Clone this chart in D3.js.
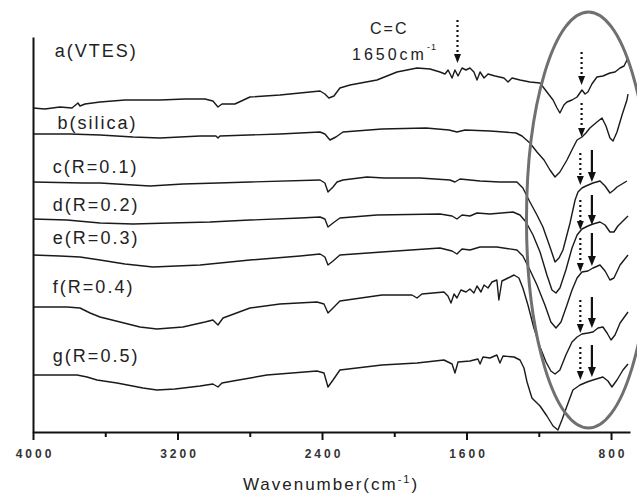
<!DOCTYPE html>
<html><head><meta charset="utf-8">
<script src="https://cdn.jsdelivr.net/npm/d3@7"></script>
<style>
html,body{margin:0;padding:0;background:#fff;}
svg{display:block;}
text{font-family:"Liberation Sans",Arial,Helvetica,sans-serif;}
</style></head><body>
<svg id="chart" width="637" height="493"></svg>
<script>
// ---------- data (wavenumber cm^-1, offset transmittance a.u.) ----------
const seriesNames = ["a(VTES)", "b(silica)", "c(R=0.1)", "d(R=0.2)", "e(R=0.3)", "f(R=0.4)", "g(R=0.5)"];
const xTicks = [4000, 3200, 2400, 1600, 800];
const xMinorTicks = [3600, 2800, 2000, 1200];

const seriesA = [[4000,324],[3934,323],[3851,325],[3784,324],[3751,329],[3740,326],[3712,328],[3629,330],[3491,332],[3297,332],[3159,333],[3048,333],[3004,331],[2976,325],[2954,328],[2882,328],[2799,335],[2633,337],[2467,340],[2411,341],[2384,338],[2362,334],[2334,336],[2301,344],[2245,347],[2096,352],[1985,360],[1874,364],[1802,363],[1747,360],[1719,358],[1702,362],[1680,354],[1664,362],[1647,356],[1625,364],[1603,362],[1581,364],[1559,360],[1542,352],[1525,360],[1503,354],[1481,358],[1442,356],[1393,354],[1370,350],[1348,354],[1304,352],[1249,350],[1193,349],[1155,340],[1121,332],[1099,324],[1083,319],[1061,327],[1044,330],[1016,332],[988,335],[961,342],[944,338],[928,340],[906,348],[878,355],[845,356],[806,359],[778,360],[750,364],[728,366],[706,374]];
const seriesB = [[4000,298],[3795,298],[3629,297],[3446,295],[3297,294],[3075,296],[2987,296],[2976,294],[2965,296],[2633,298],[2411,300],[2384,298],[2356,292],[2323,295],[2284,300],[2068,303],[1824,304],[1697,302],[1653,300],[1608,302],[1470,301],[1393,300],[1326,299],[1293,296],[1249,289],[1210,280],[1171,272],[1138,262],[1110,255],[1083,260],[1044,272],[1011,284],[988,292],[961,295],[939,299],[917,304],[878,310],[850,314],[828,306],[806,294],[789,291],[767,300],[739,317],[712,332],[706,338]];
const seriesC = [[4000,250],[3723,249],[3629,249],[3446,247],[3352,246],[3170,248],[2976,249],[2799,250],[2411,252],[2384,249],[2367,240],[2339,245],[2317,250],[2284,252],[2151,255],[2057,254],[1858,254],[1692,252],[1664,250],[1636,253],[1525,251],[1415,250],[1321,250],[1288,244],[1249,230],[1210,217],[1177,205],[1138,185],[1110,170],[1088,174],[1066,182],[1027,209],[999,232],[983,240],[961,244],[939,246],[900,249],[861,251],[833,246],[806,239],[784,242],[767,245],[739,248],[712,251]];
const seriesD = [[4000,213],[3812,212],[3629,209],[3446,208],[3242,209],[3020,210],[2799,212],[2522,214],[2411,215],[2384,213],[2367,205],[2339,209],[2301,214],[2096,217],[1747,218],[1680,216],[1653,213],[1625,217],[1581,216],[1542,219],[1470,218],[1343,220],[1304,217],[1271,210],[1232,197],[1193,180],[1155,157],[1127,142],[1105,139],[1083,144],[1050,162],[1016,184],[988,197],[961,203],[928,206],[900,208],[861,210],[833,207],[806,200],[784,200],[762,206],[734,211],[706,216]];
const seriesE = [[4000,177],[3851,176],[3740,175],[3629,172],[3491,168],[3336,165],[3075,167],[2799,172],[2522,176],[2411,178],[2384,175],[2367,167],[2339,171],[2301,177],[2068,180],[1747,184],[1680,181],[1653,178],[1625,183],[1581,182],[1525,185],[1432,185],[1321,182],[1288,176],[1249,162],[1210,147],[1166,127],[1133,110],[1105,104],[1077,110],[1044,127],[1016,142],[988,154],[961,160],[928,161],[900,164],[861,167],[833,161],[806,152],[784,154],[750,167],[706,177]];
const seriesF = [[4000,125],[3812,125],[3740,124],[3684,119],[3629,115],[3518,110],[3408,105],[3314,103],[3170,105],[3048,110],[3004,112],[2976,107],[2948,114],[2799,124],[2633,128],[2428,130],[2389,128],[2367,119],[2339,124],[2301,131],[2068,137],[1902,137],[1874,134],[1847,138],[1725,140],[1703,136],[1686,129],[1669,138],[1653,134],[1631,142],[1603,140],[1581,143],[1559,139],[1542,146],[1520,140],[1503,147],[1481,144],[1459,150],[1432,152],[1421,132],[1404,151],[1370,154],[1337,157],[1310,154],[1288,144],[1260,127],[1227,104],[1193,85],[1160,70],[1133,61],[1110,58],[1083,62],[1050,77],[1016,90],[988,95],[961,98],[928,99],[900,100],[872,104],[845,105],[822,99],[800,92],[778,97],[750,109],[706,120]];
const seriesG = [[4000,57],[3756,57],[3701,55],[3646,52],[3535,49],[3391,44],[3314,42],[3214,43],[3075,46],[3004,48],[2976,45],[2954,49],[2893,51],[2705,57],[2428,61],[2389,59],[2367,45],[2339,52],[2301,62],[2068,67],[1874,69],[1725,72],[1680,68],[1664,59],[1647,70],[1581,71],[1537,73],[1525,68],[1509,75],[1470,74],[1432,77],[1415,69],[1398,76],[1337,75],[1304,72],[1282,64],[1265,50],[1238,34],[1193,26],[1155,16],[1121,6],[1094,2],[1072,12],[1044,26],[1011,42],[972,47],[933,50],[900,52],[845,55],[817,51],[795,45],[767,52],[734,62],[706,68]];
const allSeries = [seriesA, seriesB, seriesC, seriesD, seriesE, seriesF, seriesG];

// annotation arrows: [wavenumber, from, to]
const dottedArrows = [[1650,412,369],[963,380,347],[963,329,295],[970,279,247],[970,232,202],[970,194,160],[970,132,99],[970,85,52]];
const solidArrows = [[906,282,250],[906,237,207],[906,199,166],[906,135,104],[906,87,55]];
const ellipseSpec = {w: 925, v: 212, rw: 343, rv: 208};

// ---------- layout ----------
const svg = d3.select("#chart");
const x = d3.scaleLinear().domain([4000, 695]).range([33, 630]);
const y = d3.scaleLinear().domain([0, 395]).range([432, 37]);
const labelY = [375, 303, 259, 221, 188, 139, 70];
const labelX = [3880, 3865, 3890, 3890, 3890, 3890, 3890];

// curves
const line = d3.line().x(d => x(d[0])).y(d => y(d[1]));
svg.append("g").selectAll("path").data(allSeries).join("path")
  .attr("d", line).attr("fill", "none").attr("stroke", "#1a1a1a")
  .attr("stroke-width", 1.4).attr("stroke-linejoin", "round");

// labels
svg.append("g").selectAll("text").data(seriesNames).join("text")
  .attr("x", (d, i) => x(labelX[i])).attr("y", (d, i) => y(labelY[i]))
  .attr("font-size", 18).attr("letter-spacing", 2).attr("fill", "#222")
  .text(d => d);

// axes
const axisColor = "#111";
const gx = svg.append("g").attr("transform", `translate(0,${y(0)})`)
  .call(d3.axisBottom(x).tickValues(xTicks).tickSize(8).tickSizeOuter(0).tickPadding(9).tickFormat(d3.format("d")));
gx.select(".domain").attr("stroke", axisColor).attr("stroke-width", 2);
gx.selectAll(".tick line").attr("stroke", axisColor).attr("stroke-width", 2);
gx.selectAll(".tick text").attr("font-size", 12).attr("font-weight", "bold").attr("letter-spacing", 3)
  .attr("dx", 1.5).attr("fill", "#333").attr("font-family", '"Liberation Sans",Arial,sans-serif');
const gm = svg.append("g").attr("transform", `translate(0,${y(0)})`)
  .call(d3.axisBottom(x).tickValues(xMinorTicks).tickSize(5).tickSizeOuter(0).tickFormat(""));
gm.select(".domain").remove();
gm.selectAll(".tick line").attr("stroke", axisColor).attr("stroke-width", 2);
const gy = svg.append("g").attr("transform", `translate(${x(4000)},0)`)
  .call(d3.axisLeft(y).tickValues([]).tickSizeOuter(0));
gy.select(".domain").attr("stroke", axisColor).attr("stroke-width", 2);

// axis title
const title = svg.append("text").attr("x", 331).attr("y", 490).attr("text-anchor", "middle")
  .attr("font-size", 17).attr("letter-spacing", 2).attr("fill", "#222");
title.append("tspan").text("Wavenumber(cm");
title.append("tspan").attr("dy", -7).attr("font-size", 11).text("-1");
title.append("tspan").attr("dy", 7).text(")");

// C=C annotation
svg.append("text").attr("x", 370).attr("y", 34).attr("font-size", 16).attr("letter-spacing", 2)
  .attr("fill", "#222").text("C=C");
const ann = svg.append("text").attr("x", 352).attr("y", 60).attr("font-size", 16).attr("letter-spacing", 3).attr("fill", "#222");
ann.append("tspan").text("1650cm");
ann.append("tspan").attr("dy", -10).attr("font-size", 9).attr("letter-spacing", 1).text("-1");

// arrows
const ag = svg.append("g");
dottedArrows.forEach(([w, f, t]) => {
  const px = x(w), y0 = y(f), y1 = y(t);
  ag.append("line").attr("x1", px).attr("x2", px).attr("y1", y0).attr("y2", y1 - 7)
    .attr("stroke", "#111").attr("stroke-width", 2.2).attr("stroke-dasharray", "2,3");
  ag.append("path").attr("d", `M${px-3.5},${y1-9}L${px+3.5},${y1-9}L${px},${y1}Z`).attr("fill", "#111");
});
solidArrows.forEach(([w, f, t]) => {
  const px = x(w), y0 = y(f), y1 = y(t);
  ag.append("line").attr("x1", px).attr("x2", px).attr("y1", y0).attr("y2", y1 - 7)
    .attr("stroke", "#111").attr("stroke-width", 2.2);
  ag.append("path").attr("d", `M${px-4},${y1-10}L${px+4},${y1-10}L${px},${y1}Z`).attr("fill", "#111");
});

// highlight ellipse
svg.append("ellipse")
  .attr("cx", x(ellipseSpec.w)).attr("cy", y(ellipseSpec.v))
  .attr("rx", Math.abs(x(ellipseSpec.w - ellipseSpec.rw) - x(ellipseSpec.w)))
  .attr("ry", Math.abs(y(ellipseSpec.v + ellipseSpec.rv) - y(ellipseSpec.v)))
  .attr("fill", "none").attr("stroke", "#707070").attr("stroke-width", 3);
</script>
</body></html>
